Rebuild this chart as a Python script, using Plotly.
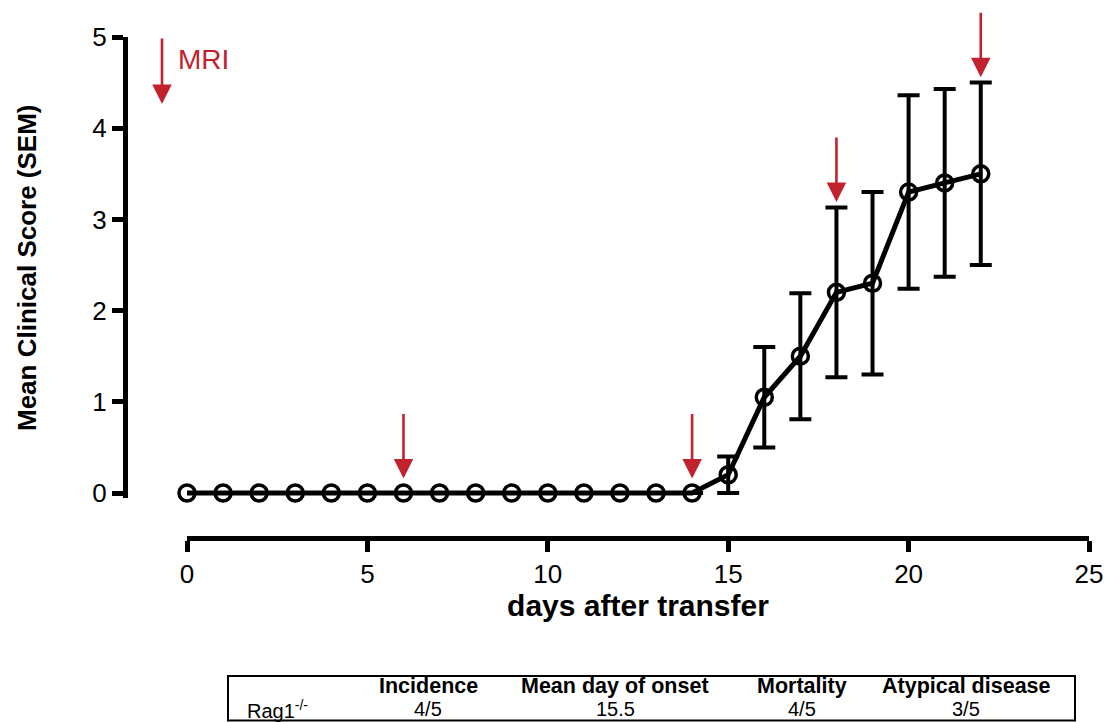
import plotly.graph_objects as go

# ---- data ----
days = list(range(0, 23))
mean_score = [0, 0, 0, 0, 0, 0, 0, 0, 0, 0, 0, 0, 0, 0, 0,
              0.2, 1.05, 1.5, 2.2, 2.3, 3.3, 3.4, 3.5]
sem = [None] * 15 + [0.2, 0.55, 0.69, 0.93, 1.0, 1.06, 1.03, 1.0]

mri_days = [6, 14, 18, 22]

x_ticks = [0, 5, 10, 15, 20, 25]
y_ticks = [0, 1, 2, 3, 4, 5]

table_headers = ["Incidence", "Mean day of onset", "Mortality", "Atypical disease"]
table_row_label = "Rag1<sup>-/-</sup>"
table_values = ["4/5", "15.5", "4/5", "3/5"]

# ---- layout constants ----
W, H = 1111, 722
RED = "#C1222E"
FONT = "Liberation Sans, Arial, sans-serif"
Y_PAD = 0.06  # small pad below 0 so the zero-level line is not clipped


def px_x(p):
    return p / W


def px_y(p):
    return (H - p) / H


y_top_px, y_zero_px = 37, 493
px_per_unit = (y_zero_px - y_top_px) / 5.0

fig = go.Figure()

fig.add_trace(go.Scatter(
    x=days, y=mean_score,
    mode="lines+markers",
    line=dict(color="black", width=5),
    marker=dict(symbol="circle-open", size=16, color="black",
                line=dict(width=3.5, color="black")),
    error_y=dict(type="data", array=[s if s is not None else float("nan") for s in sem],
                 visible=True, color="black", thickness=4, width=11),
    cliponaxis=False,
    showlegend=False,
))

annotations = []
# MRI arrows at imaging days
for d in mri_days:
    i = days.index(d)
    s = sem[i] or 0
    gap = 0.16 if s == 0 else 0.06
    annotations.append(dict(
        x=d, y=mean_score[i] + s + gap, xref="x", yref="y",
        ax=0, ay=-66, showarrow=True, arrowhead=2, arrowsize=1.5,
        arrowwidth=2.6, arrowcolor=RED, text=""))

# legend-like MRI arrow + label
annotations.append(dict(
    x=px_x(162), y=px_y(104), xref="paper", yref="paper",
    ax=0, ay=-67, showarrow=True, arrowhead=2, arrowsize=1.5,
    arrowwidth=2.6, arrowcolor=RED, text=""))
annotations.append(dict(
    x=px_x(176), y=px_y(60), xref="paper", yref="paper",
    xanchor="left", yanchor="middle", showarrow=False,
    text="MRI", font=dict(family=FONT, size=28, color=RED)))

# table text
header_x = [428, 615, 802, 966]
for hx, htxt, vtxt in zip(header_x, table_headers, table_values):
    annotations.append(dict(
        x=px_x(hx), y=px_y(686), xref="paper", yref="paper",
        xanchor="center", yanchor="middle", showarrow=False,
        text="<b>" + htxt + "</b>", font=dict(family=FONT, size=21.5, color="black")))
    annotations.append(dict(
        x=px_x(hx), y=px_y(709), xref="paper", yref="paper",
        xanchor="center", yanchor="middle", showarrow=False,
        text=vtxt, font=dict(family=FONT, size=20, color="black")))
annotations.append(dict(
    x=px_x(245), y=px_y(709), xref="paper", yref="paper",
    xanchor="left", yanchor="middle", showarrow=False,
    text=table_row_label, font=dict(family=FONT, size=20, color="black")))

shapes = [dict(type="rect", xref="paper", yref="paper",
               x0=px_x(228), x1=px_x(1075), y0=px_y(720.5), y1=px_y(676),
               line=dict(color="black", width=2), fillcolor="rgba(0,0,0,0)")]

fig.update_layout(
    width=W, height=H,
    margin=dict(l=0, r=0, t=0, b=0),
    paper_bgcolor="white", plot_bgcolor="white",
    font=dict(family=FONT, color="black"),
    annotations=annotations,
    shapes=shapes,
    xaxis=dict(
        domain=[px_x(187), px_x(1089)],
        range=[0, 25], anchor="free", position=px_y(538),
        tickvals=x_ticks, ticktext=[str(t) for t in x_ticks],
        showline=True, linewidth=5, linecolor="black",
        ticks="outside", ticklen=11, tickwidth=5, tickcolor="black",
        showgrid=False, zeroline=False,
        tickfont=dict(family=FONT, size=26, color="black"),
        title=dict(text="<b>days after transfer</b>", standoff=6,
                   font=dict(family=FONT, size=30, color="black")),
        automargin=False,
    ),
    yaxis=dict(
        domain=[px_y(y_zero_px + Y_PAD * px_per_unit), px_y(y_top_px)],
        range=[-Y_PAD, 5], anchor="free", position=px_x(125),
        tickvals=y_ticks, ticktext=[str(t) for t in y_ticks],
        showline=True, linewidth=5, linecolor="black",
        ticks="outside", ticklen=11, tickwidth=5, tickcolor="black",
        showgrid=False, zeroline=False,
        tickfont=dict(family=FONT, size=26, color="black"),
        title=dict(text="<b>Mean Clinical Score (SEM)</b>", standoff=47,
                   font=dict(family=FONT, size=26, color="black")),
        automargin=False,
    ),
)

fig.write_html("out.html")
